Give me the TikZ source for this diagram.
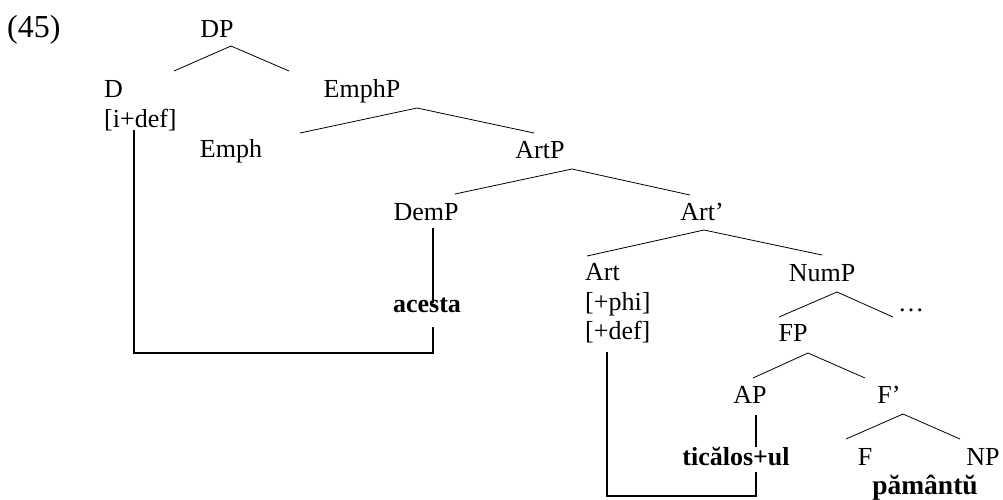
\documentclass[tikz,border=0pt]{standalone}
\usepackage{fontspec}
\setmainfont{Liberation Serif}
\begin{document}
\begin{tikzpicture}[x=1pt,y=-1pt,
  lab/.style={inner sep=0pt,anchor=base,font=\fontsize{26}{30}\selectfont},
  labw/.style={lab,anchor=base west},
  bf/.style={lab,font=\fontsize{26}{30}\selectfont\bfseries},
  tree/.style={line width=0.8pt},
  move/.style={line width=1.8pt}]
\useasboundingbox (0,0) rectangle (1003,499);
% labels
\node[labw,font=\fontsize{32}{36}\selectfont] (n45) at (7,37) {(45)};
\node[lab] (DP) at (217,37) {DP};
\node[labw] (D) at (104,97) {D};
\node[labw] (Dfeat) at (104,127) {[i+def]};
\node[lab] (EmphP) at (362,97) {EmphP};
\node[lab] (Emph) at (231,157) {Emph};
\node[lab] (ArtP) at (540,158) {ArtP};
\node[lab] (DemP) at (426,220) {DemP};
\node[lab] (Artbar) at (702,220) {Art’};
\node[bf] (acesta) at (427,312) {acesta};
\node[labw] (Art) at (585,280) {Art};
\node[labw] (phi) at (585,310) {[+phi]};
\node[labw] (def) at (585,339) {[+def]};
\node[lab] (NumP) at (822,281) {NumP};
\node[labw] (dots) at (898,311) {…};
\node[lab] (FP) at (793,341) {FP};
\node[lab] (AP) at (750,403) {AP};
\node[lab] (Fbar) at (889,403) {F’};
\node[bf] (tic) at (736,465) {ticălos+ul};
\node[lab] (F) at (865,465) {F};
\node[lab] (NP) at (983,465) {NP};
\node[bf,font=\fontsize{27.5}{30}\selectfont\bfseries] (pam) at (925,494) {pământŭ};
% tree branches
\coordinate (dpA) at (231,46); \coordinate (dpL) at (174,71); \coordinate (dpR) at (289,71);
\coordinate (emA) at (417,108); \coordinate (emL) at (300,133); \coordinate (emR) at (534,133);
\coordinate (arA) at (572,169); \coordinate (arL) at (455,194); \coordinate (arR) at (690,195);
\coordinate (abA) at (704,230); \coordinate (abL) at (587,256); \coordinate (abR) at (822,255);
\coordinate (nuA) at (837,292); \coordinate (nuL) at (779,317); \coordinate (nuR) at (893,317);
\coordinate (fpA) at (808,353); \coordinate (fpL) at (753,378); \coordinate (fpR) at (865,378);
\coordinate (fbA) at (903,414); \coordinate (fbL) at (846,439); \coordinate (fbR) at (960,439);
\draw[tree] (dpL) -- (dpA) -- (dpR);
\draw[tree] (emL) -- (emA) -- (emR);
\draw[tree] (arL) -- (arA) -- (arR);
\draw[tree] (abL) -- (abA) -- (abR);
\draw[tree] (nuL) -- (nuA) -- (nuR);
\draw[tree] (fpL) -- (fpA) -- (fpR);
\draw[tree] (fbL) -- (fbA) -- (fbR);
% unary lines
\coordinate (demT) at (433,228); \coordinate (demB) at (433,303);
\coordinate (apT) at (756,415); \coordinate (apB) at (756,447);
\draw[move] (demT) -- (demB);
\draw[move] (apT) -- (apB);
% movement lines
\coordinate (m1a) at (134,130); \coordinate (m1b) at (134,353);
\coordinate (m1c) at (433,353); \coordinate (m1d) at (433,327);
\draw[move] (m1a) -- (m1b) -- (m1c) -- (m1d);
\coordinate (m2a) at (607,352); \coordinate (m2b) at (607,496);
\coordinate (m2c) at (756,496); \coordinate (m2d) at (756,472);
\draw[move] (m2a) -- (m2b) -- (m2c) -- (m2d);
\end{tikzpicture}
\end{document}
